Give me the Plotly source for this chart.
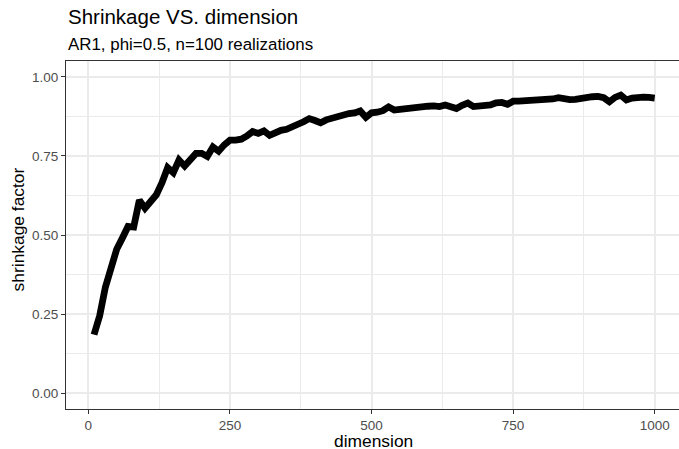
import plotly.graph_objects as go

# dimension of the AR1 covariance and the average shrinkage factor
dimension = list(range(10, 1001, 10))
shrinkage = [
    0.185, 0.245, 0.335, 0.400, 0.455, 0.490, 0.527, 0.525, 0.610, 0.585,
    0.605, 0.627, 0.665, 0.713, 0.697, 0.737, 0.718, 0.740, 0.758, 0.758,
    0.748, 0.778, 0.765, 0.785, 0.800, 0.800, 0.803, 0.813, 0.827, 0.821,
    0.829, 0.815, 0.825, 0.831, 0.834, 0.840, 0.850, 0.858, 0.868, 0.862,
    0.855, 0.864, 0.870, 0.875, 0.881, 0.884, 0.886, 0.892, 0.872, 0.886,
    0.888, 0.893, 0.905, 0.895, 0.897, 0.900, 0.902, 0.904, 0.905, 0.907,
    0.908, 0.906, 0.911, 0.906, 0.900, 0.910, 0.917, 0.906, 0.907, 0.909,
    0.911, 0.918, 0.919, 0.913, 0.923, 0.923, 0.924, 0.925, 0.926, 0.925,
    0.924, 0.930, 0.934, 0.930, 0.928, 0.929, 0.933, 0.936, 0.937, 0.938,
    0.934, 0.921, 0.935, 0.942, 0.927, 0.933, 0.936, 0.936, 0.935, 0.933,
]

x_ticks = [0, 250, 500, 750, 1000]
y_ticks = [0.00, 0.25, 0.50, 0.75, 1.00]
y_tick_labels = ["0.00", "0.25", "0.50", "0.75", "1.00"]

title_text = "Shrinkage VS. dimension"
subtitle_text = "AR1, phi=0.5, n=100 realizations"
x_title = "dimension"
y_title = "shrinkage factor"

FONT = "Liberation Sans, Arial, Helvetica, sans-serif"
W, H = 679, 449
M_L, M_R, M_T, M_B = 65.6, 0, 60.7, 39.6
plot_h = H - M_T - M_B
plot_w = W - M_L - M_R


def py(y_px):
    """Pixel row -> paper y coordinate."""
    return (H - M_B - y_px) / plot_h


def px(x_px):
    """Pixel column -> paper x coordinate."""
    return (x_px - M_L) / plot_w


fig = go.Figure(
    go.Scatter(
        x=dimension,
        y=shrinkage,
        mode="lines",
        line=dict(color="black", width=6.8),
        hoverinfo="x+y",
    )
)

grid = "#EBEBEB"
axis_common = dict(
    showline=True,
    linecolor="#333333",
    linewidth=1.1,
    ticks="outside",
    ticklen=4,
    tickwidth=1.1,
    tickcolor="#333333",
    tickfont=dict(family=FONT, size=13.5, color="#4D4D4D"),
    showgrid=True,
    gridcolor=grid,
    gridwidth=2,
    zeroline=False,
)

fig.update_xaxes(
    range=[-39.5, 1042.9],
    tickvals=x_ticks,
    ticktext=[str(v) for v in x_ticks],
    mirror=True,
    minor=dict(tick0=125, dtick=250, showgrid=True, gridcolor=grid, gridwidth=1, ticks=""),
    **axis_common,
)
fig.update_yaxes(
    range=[-0.05, 1.05],
    tickvals=y_ticks,
    ticktext=y_tick_labels,
    minor=dict(tick0=0.125, dtick=0.25, showgrid=True, gridcolor=grid, gridwidth=1, ticks=""),
    **axis_common,
)

annotations = [
    dict(text=title_text, x=px(66), y=py(15.8), xanchor="left", yanchor="middle",
         font=dict(family=FONT, size=20.5, color="black")),
    dict(text=subtitle_text, x=px(66), y=py(44.3), xanchor="left", yanchor="middle",
         font=dict(family=FONT, size=16.9, color="black")),
    dict(text=x_title, x=px(373), y=py(441), xanchor="center", yanchor="middle",
         font=dict(family=FONT, size=17.4, color="black")),
    dict(text=y_title, x=px(18), y=py(229), xanchor="center", yanchor="middle",
         textangle=-90, font=dict(family=FONT, size=17.4, color="black")),
]
for a in annotations:
    a.update(xref="paper", yref="paper", showarrow=False)

fig.update_layout(
    width=W,
    height=H,
    margin=dict(l=M_L, r=M_R, t=M_T, b=M_B, pad=0),
    paper_bgcolor="white",
    plot_bgcolor="white",
    showlegend=False,
    annotations=annotations,
)

fig.write_html("out.html")
